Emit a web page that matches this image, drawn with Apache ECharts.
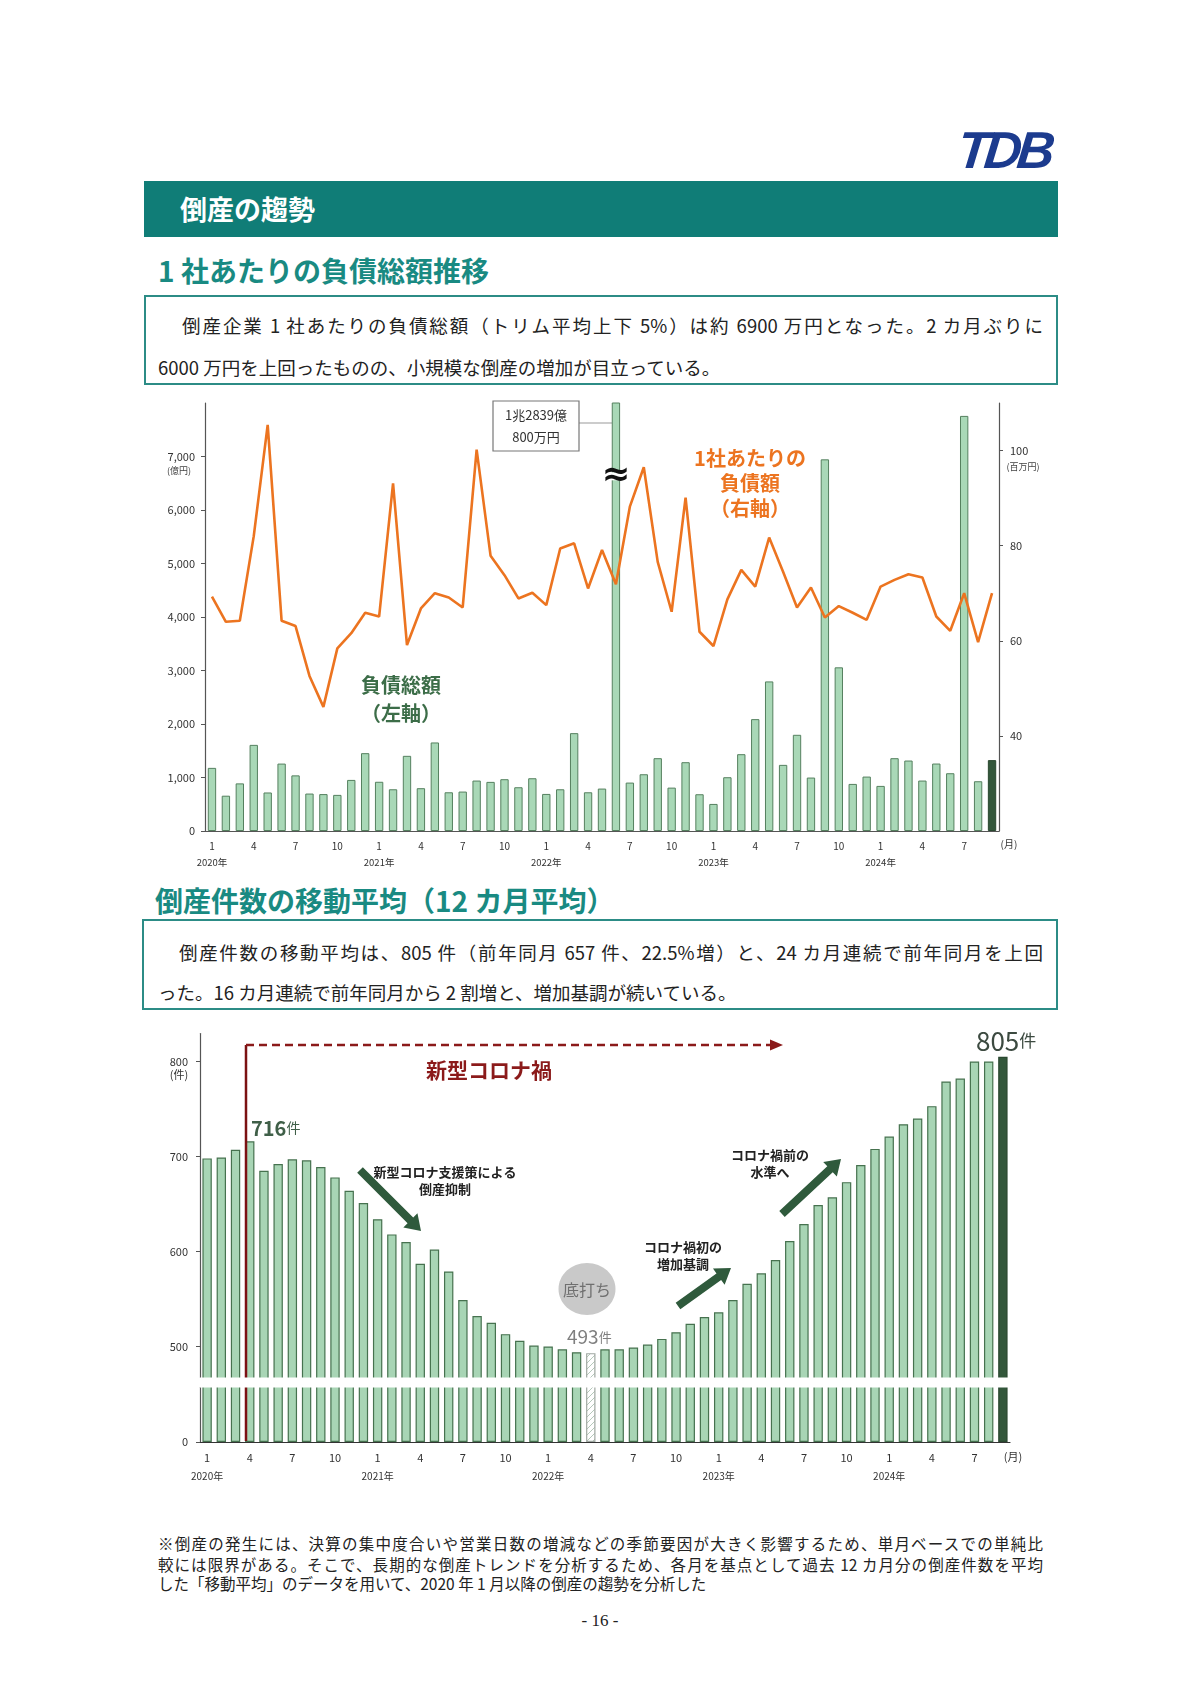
<!DOCTYPE html>
<html><head><meta charset="utf-8">
<script src="https://cdn.jsdelivr.net/npm/echarts@6/dist/echarts.min.js"></script>
<style>
html,body{margin:0;padding:0;background:#fff;}
body{width:1200px;height:1697px;position:relative;overflow:hidden;font-family:"Noto Sans CJK JP","Noto Sans",sans-serif;color:#222;}
.abs{position:absolute;}
#logo{left:958px;top:125px;font:italic bold 52px "Liberation Sans",Arial,sans-serif;color:#1c3b8e;letter-spacing:-5px;line-height:50px;transform:skewX(-6deg);}
#banner{left:144px;top:181px;width:914px;height:56px;background:#107d77;}
#banner span{position:absolute;left:36px;top:0;line-height:56px;font-size:27px;font-weight:700;color:#fff;}
.sub{font-size:28px;font-weight:700;color:#198a82;line-height:34px;white-space:nowrap;}
.box{border:2px solid #2c8c86;box-sizing:border-box;}
.line{position:absolute;font-size:18.5px;line-height:24px;white-space:nowrap;color:#222;}
.just{text-align:justify;text-align-last:justify;white-space:normal;}
.fn{position:absolute;font-size:15.5px;line-height:20px;white-space:nowrap;color:#222;}
</style></head>
<body>
<div id="logo" class="abs">TDB</div>
<div id="banner" class="abs"><span>倒産の趨勢</span></div>
<div class="abs sub" style="left:158px;top:253px;">1 社あたりの負債総額推移</div>
<div class="abs box" style="left:144px;top:295px;width:914px;height:90px;"></div>
<div class="line just" style="left:182px;top:313px;width:861px;">倒産企業 1 社あたりの負債総額（トリム平均上下 5%）は約 6900 万円となった。2 カ月ぶりに</div>
<div class="line" style="left:158px;top:355px;">6000 万円を上回ったものの、小規模な倒産の増加が目立っている。</div>
<div id="c1" class="abs" style="left:0;top:390px;width:1200px;height:490px;"></div>
<div class="abs sub" style="left:155px;top:883px;">倒産件数の移動平均（12 カ月平均）</div>
<div class="abs box" style="left:142px;top:919px;width:916px;height:91px;"></div>
<div class="line just" style="left:179px;top:940px;width:864px;">倒産件数の移動平均は、805 件（前年同月 657 件、22.5%増）と、24 カ月連続で前年同月を上回</div>
<div class="line" style="left:158px;top:980px;">った。16 カ月連続で前年同月から 2 割増と、増加基調が続いている。</div>
<div id="c2" class="abs" style="left:0;top:1020px;width:1200px;height:480px;"></div>
<div class="fn just" style="left:158px;top:1533px;width:885px;">※倒産の発生には、決算の集中度合いや営業日数の増減などの季節要因が大きく影響するため、単月ベースでの単純比</div>
<div class="fn just" style="left:158px;top:1554px;width:885px;">較には限界がある。そこで、長期的な倒産トレンドを分析するため、各月を基点として過去 12 カ月分の倒産件数を平均</div>
<div class="fn" style="left:158px;top:1573px;">した「移動平均」のデータを用いて、2020 年 1 月以降の倒産の趨勢を分析した</div>
<div class="abs" style="left:500px;top:1611px;width:200px;text-align:center;font:17px 'Liberation Serif','DejaVu Serif',serif;">- 16 -</div>
<script>
// ---- data ----
const years = [2020, 2021, 2022, 2023, 2024];
const monthCount = 57; // 2020/1 - 2024/9
// 負債総額（億円）
const debtTotal = [1180, 660, 890, 1610, 720, 1260, 1040, 700, 690, 675, 955, 1455,
  920, 780, 1405, 800, 1655, 724, 737, 943, 918, 968, 818, 986,
  693, 780, 1829, 724, 793, 12839, 905, 1061, 1361, 811, 1286, 687,
  506, 1005, 1436, 2091, 2796, 1236, 1798, 999, 6947, 3059, 880, 1017,
  843, 1361, 1317, 943, 1261, 1080, 7759, 930, 1325];
// 1社あたりの負債額（百万円）
const debtPerCompany = [69.3, 64.0, 64.2, 82.0, 105.4, 64.2, 63.1, 52.6, 46.1, 58.4, 61.6, 65.9,
  65.1, 93.1, 59.1, 66.8, 70.0, 69.1, 67.0, 100.2, 77.9, 73.8, 68.9, 70.1,
  67.5, 79.4, 80.5, 71.0, 79.1, 71.9, 88.2, 96.5, 76.6, 66.1, 90.1, 61.9,
  58.9, 68.7, 74.9, 71.4, 81.7, 74.5, 67.0, 71.2, 64.9, 67.3, 65.9, 64.4,
  71.4, 72.8, 74.0, 73.3, 65.1, 62.1, 70.0, 59.7, 70.0];
// 倒産件数の移動平均（件）
const movingAvg = [698, 699, 707, 716, 685, 692, 697, 696, 689, 678, 664, 651,
  634, 618, 610, 587, 602, 579, 549, 532, 525, 513, 506, 501,
  500, 497, 494, 493, 497, 497, 499, 502, 508, 515, 524, 531,
  536, 549, 566, 577, 591, 611, 629, 649, 657, 673, 691, 708,
  721, 734, 740, 753, 779, 782, 800, 800, 805];
const leftTicks = [0, 1000, 2000, 3000, 4000, 5000, 6000, 7000];
const rightTicks = [40, 60, 80, 100];
const countTicks = [0, 500, 600, 700, 800];
const bigIndex = 29;      // 2022年6月
const bottomIndex = 27;   // 2022年4月 493件
const latestIndex = 56;   // 2024年9月

const cats = [];
for (const y of years) for (let m = 1; m <= 12; m++) if (cats.length < monthCount) cats.push(y + '-' + m);

const F = '"Noto Sans CJK JP","Noto Sans",sans-serif';
function monthFmt(v) {
  const [y, m] = v.split('-');
  return m === '1' ? m + '\n{y|' + y + '年}' : m;
}

// ---- chart 1 ----
const c1 = echarts.init(document.getElementById('c1'), null, {renderer: 'canvas'});
const barItems1 = debtTotal.map((v, i) => i === latestIndex
  ? {value: v, itemStyle: {color: '#33573b', borderColor: '#2a4830'}} : v);
c1.setOption({
  animation: false,
  textStyle: {fontFamily: F},
  grid: {left: 205, right: 201, top: 13, bottom: 49},
  xAxis: {
    type: 'category', data: cats,
    axisLine: {lineStyle: {color: '#555', width: 1.2}},
    axisTick: {show: false},
    axisLabel: {interval: 2, margin: 9, fontSize: 10, lineHeight: 12, color: '#333', fontFamily: F,
      formatter: monthFmt, rich: {y: {fontSize: 9.5, lineHeight: 20, color: '#333', fontFamily: F}}}
  },
  yAxis: [
    {type: 'value', min: 0, max: 8000, interval: 1000, position: 'left',
      axisLine: {show: true, lineStyle: {color: '#555', width: 1.2}},
      axisTick: {show: true, length: 4, customValues: leftTicks, lineStyle: {color: '#555'}},
      axisLabel: {customValues: leftTicks, fontSize: 11, color: '#333', margin: 10, fontFamily: F,
        formatter: v => Number(v).toLocaleString('en-US')},
      splitLine: {show: false}},
    {type: 'value', min: 20, max: 110, interval: 10, position: 'right',
      axisLine: {show: true, lineStyle: {color: '#555', width: 1.2}},
      axisTick: {show: true, length: 4, customValues: rightTicks, lineStyle: {color: '#555'}},
      axisLabel: {customValues: rightTicks, fontSize: 11, color: '#333', margin: 11, fontFamily: F},
      splitLine: {show: false}}
  ],
  series: [
    {type: 'bar', data: barItems1, barWidth: '60%', clip: true,
      itemStyle: {color: '#a9d8b7', borderColor: '#55805f', borderWidth: 1}},
    {type: 'line', yAxisIndex: 1, data: debtPerCompany, symbol: 'none', z: 5,
      lineStyle: {color: '#ec7420', width: 2.6}}
  ],
  graphic: [
    {type: 'text', x: 179, y: 81, style: {text: '(億円)', fontSize: 9, fill: '#444', align: 'center', verticalAlign: 'middle', fontFamily: F}},
    {type: 'text', x: 1023, y: 77, style: {text: '(百万円)', fontSize: 9, fill: '#444', align: 'center', verticalAlign: 'middle', fontFamily: F}},
    {type: 'text', x: 1009, y: 454, style: {text: '(月)', fontSize: 10, fill: '#333', align: 'center', verticalAlign: 'middle', fontFamily: F}},
    {type: 'text', x: 750, y: 93, style: {text: '1社あたりの\n負債額\n（右軸）', fontSize: 20, fontWeight: 'bold', lineHeight: 25,
      fill: '#ec7420', align: 'center', verticalAlign: 'middle', fontFamily: F}},
    {type: 'text', x: 401, y: 309, style: {text: '負債総額\n（左軸）', fontSize: 20, fontWeight: 'bold', lineHeight: 28,
      fill: '#3c6d48', align: 'center', verticalAlign: 'middle', fontFamily: F}},
    {type: 'line', shape: {x1: 579, y1: 33, x2: 612, y2: 33}, style: {stroke: '#999', lineWidth: 1.2}},
    {type: 'rect', shape: {x: 493, y: 11, width: 86, height: 50}, style: {fill: '#fff', stroke: '#777', lineWidth: 1.2}},
    {type: 'text', x: 536, y: 25, style: {text: '1兆2839億', fontSize: 13, fill: '#333', align: 'center', verticalAlign: 'middle', fontFamily: F}},
    {type: 'text', x: 536, y: 47, style: {text: '800万円', fontSize: 13, fill: '#333', align: 'center', verticalAlign: 'middle', fontFamily: F}}
  ]
});
// break mark on the off-scale bar, positioned through the chart's own scales
const bp = c1.convertToPixel({gridIndex: 0}, [bigIndex, 6630]);
c1.setOption({graphic: [
  {id: 'gapFill', type: 'rect', z: 60, shape: {x: bp[0] - 7, y: bp[1] - 4, width: 14, height: 8}, style: {fill: '#fff'}},
  {id: 'approx', type: 'text', z: 61, x: bp[0], y: bp[1], style: {text: '≈', fontSize: 34, fontWeight: 'bold', fill: '#111',
    align: 'center', verticalAlign: 'middle', fontFamily: '"DejaVu Sans",sans-serif'}}
]});

// ---- chart 2 ----
const pc = document.createElement('canvas'); pc.width = 6; pc.height = 6;
const g = pc.getContext('2d'); g.fillStyle = '#fff'; g.fillRect(0, 0, 6, 6);
g.strokeStyle = '#b5c8ba'; g.lineWidth = 1; g.beginPath();
g.moveTo(0, 6); g.lineTo(6, 0); g.moveTo(-3, 3); g.lineTo(3, -3); g.moveTo(3, 9); g.lineTo(9, 3); g.stroke();

const barItems2 = movingAvg.map((v, i) => {
  if (i === latestIndex) return {value: v, itemStyle: {color: '#33573b', borderColor: '#2a4830'}};
  if (i === bottomIndex) return {value: v, itemStyle: {color: {image: pc, repeat: 'repeat'}, borderColor: '#a0a8a2'}};
  return v;
});

function arrowPoly(x1, y1, x2, y2, w, hl, hw) {
  const dx = x2 - x1, dy = y2 - y1, L = Math.hypot(dx, dy);
  const ux = dx / L, uy = dy / L, px = -uy, py = ux;
  const bx = x2 - ux * hl, by = y2 - uy * hl;
  return [[x1 + px * w / 2, y1 + py * w / 2], [bx + px * w / 2, by + py * w / 2], [bx + px * hw / 2, by + py * hw / 2],
    [x2, y2], [bx - px * hw / 2, by - py * hw / 2], [bx - px * w / 2, by - py * w / 2], [x1 - px * w / 2, y1 - py * w / 2]];
}
const AG = '#2f5a3c';
const c2 = echarts.init(document.getElementById('c2'), null, {renderer: 'canvas'});
c2.setOption({
  animation: false,
  textStyle: {fontFamily: F},
  grid: {left: 200, right: 190, top: 13, bottom: 58},
  xAxis: {
    type: 'category', data: cats,
    axisLine: {lineStyle: {color: '#333', width: 1.2}},
    axisTick: {show: false},
    axisLabel: {interval: 2, margin: 9, fontSize: 11, lineHeight: 13, color: '#333', fontFamily: F,
      formatter: monthFmt, rich: {y: {fontSize: 10, lineHeight: 24, color: '#333', fontFamily: F}}}
  },
  yAxis: {
    type: 'value', min: 0, max: 830,
    breaks: [{start: 58, end: 468, gap: '2.45%'}],
    breakArea: {show: true, zigzagAmplitude: 0, zigzagZ: 100, expandOnClick: false,
      itemStyle: {color: '#fff', borderColor: '#fff', borderWidth: 0, opacity: 1}},
    axisLine: {show: true, lineStyle: {color: '#555', width: 1.2}},
    axisTick: {show: true, length: 4, customValues: countTicks, lineStyle: {color: '#555'}},
    axisLabel: {customValues: countTicks, fontSize: 11, color: '#333', margin: 12, fontFamily: F},
    splitLine: {show: false}
  },
  series: [
    {type: 'bar', data: barItems2, barWidth: '66%',
      itemStyle: {color: '#a8d5b5', borderColor: '#46724f', borderWidth: 1.2}}
  ],
  graphic: [
    {type: 'text', x: 179, y: 55, style: {text: '(件)', fontSize: 11, fill: '#333', align: 'center', verticalAlign: 'middle', fontFamily: F}},
    {type: 'text', x: 1013, y: 437, style: {text: '(月)', fontSize: 11, fill: '#333', align: 'center', verticalAlign: 'middle', fontFamily: F}},
    {type: 'line', shape: {x1: 246, y1: 25, x2: 246, y2: 421}, style: {stroke: '#7b1113', lineWidth: 2.5}, z: 50},
    {type: 'line', shape: {x1: 246, y1: 25, x2: 772, y2: 25}, style: {stroke: '#8b1a1a', lineWidth: 2.5, lineDash: [8, 5]}, z: 50},
    {type: 'polygon', shape: {points: [[770, 19.5], [783, 25], [770, 30.5]]}, style: {fill: '#8b1a1a'}, z: 50},
    {type: 'text', x: 489, y: 50, style: {text: '新型コロナ禍', fontSize: 21, fontWeight: 'bold', fill: '#8b1a1a', align: 'center', verticalAlign: 'middle', fontFamily: F}},
    {type: 'text', x: 251, y: 108, style: {text: '{n|716}{u|件}', rich: {n: {fontSize: 20, fontWeight: 'bold', fill: '#3f5f48', fontFamily: F}, u: {fontSize: 14, fill: '#3f5f48', fontFamily: F}}, verticalAlign: 'middle'}},
    {type: 'text', x: 567, y: 317, style: {text: '{n|493}{u|件}', rich: {n: {fontSize: 19, fill: '#7f7f7f', fontFamily: F}, u: {fontSize: 13, fill: '#7f7f7f', fontFamily: F}}, verticalAlign: 'middle'}},
    {type: 'text', x: 976, y: 21, style: {text: '{n|805}{u|件}', rich: {n: {fontSize: 26, fill: '#3c4a40', fontFamily: F}, u: {fontSize: 17, fill: '#3c4a40', fontFamily: F}}, verticalAlign: 'middle'}},
    {type: 'ellipse', shape: {cx: 587, cy: 269, rx: 28.5, ry: 26}, style: {fill: '#c9c9c9'}},
    {type: 'text', x: 587, y: 270, style: {text: '底打ち', fontSize: 16, fill: '#6f6f6f', align: 'center', verticalAlign: 'middle', fontFamily: F}},
    {type: 'polygon', shape: {points: arrowPoly(360, 150, 421, 211, 8, 15, 20)}, style: {fill: AG}},
    {type: 'polygon', shape: {points: arrowPoly(678, 286, 731, 248, 8, 15, 20)}, style: {fill: AG}},
    {type: 'polygon', shape: {points: arrowPoly(782, 194, 841, 139, 8, 15, 20)}, style: {fill: AG}},
    {type: 'text', x: 445, y: 161, style: {text: '新型コロナ支援策による\n倒産抑制', fontSize: 13, fontWeight: 'bold', lineHeight: 17, fill: '#222', align: 'center', verticalAlign: 'middle', fontFamily: F}},
    {type: 'text', x: 683, y: 236, style: {text: 'コロナ禍初の\n増加基調', fontSize: 13, fontWeight: 'bold', lineHeight: 17, fill: '#222', align: 'center', verticalAlign: 'middle', fontFamily: F}},
    {type: 'text', x: 770, y: 144, style: {text: 'コロナ禍前の\n水準へ', fontSize: 13, fontWeight: 'bold', lineHeight: 17, fill: '#222', align: 'center', verticalAlign: 'middle', fontFamily: F}}
  ]
});
</script>
</body></html>
